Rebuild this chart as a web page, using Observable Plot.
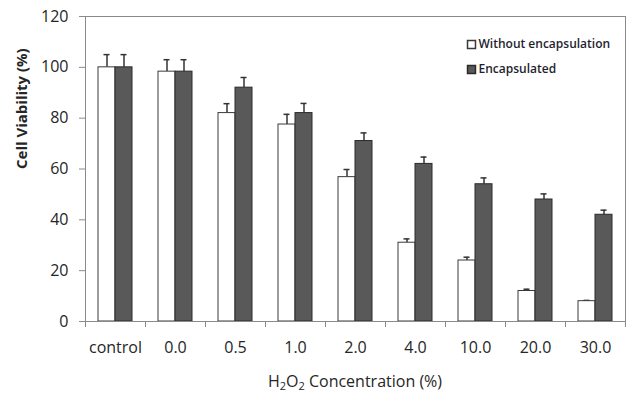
<!DOCTYPE html>
<html><head><meta charset="utf-8">
<script src="https://cdn.jsdelivr.net/npm/d3@7"></script>
<script src="https://cdn.jsdelivr.net/npm/@observablehq/plot@0.6"></script>
<style>
body{margin:0;background:#fff;font-family:"Open Sans",sans-serif;}
#chart svg{display:block;}
#xtitle{width:540px;padding-left:85px;height:28px;line-height:30px;text-align:center;font-size:16px;color:#262626;}
#xtitle sub{font-size:11px;vertical-align:-3px;line-height:0;}
</style></head>
<body>
<div id="chart"></div>
<div id="xtitle">H<sub>2</sub>O<sub>2</sub> Concentration (%)</div>
<script>
const categories = ["control","0.0","0.5","1.0","2.0","4.0","10.0","20.0","30.0"];
const seriesNames = ["Without encapsulation","Encapsulated"];
const withoutMean = [100,98.3,82,77.5,56.8,31,24,12,8];
const withoutErr  = [5,4.7,3.7,4,3,1.5,1.3,0.7,0.3];
const encapMean   = [100,98.3,92,82,71,62,54,48,42];
const encapErr    = [5,4.7,4,3.8,3.2,2.7,2.5,2.2,1.8];
const yTicks = [0,20,40,60,80,100,120];

const wData = categories.map((c,i)=>({cat:c, v:withoutMean[i], e:withoutErr[i]}));
const eData = categories.map((c,i)=>({cat:c, v:encapMean[i], e:encapErr[i]}));

const font = "Open Sans, sans-serif";
const plot = Plot.plot({
  width: 628, height: 366,
  marginLeft: 85, marginRight: 3, marginTop: 16, marginBottom: 45,
  style: {fontFamily: font, fontSize: "16px", color: "#262626", background: "#fff"},
  x: {domain: categories, padding: 0, axis: null},
  y: {domain: [0,120], axis: null},
  marks: [
    Plot.frame({stroke: "#8a8a8a"}),
    // error bars (upper)
    Plot.ruleX(wData, {x: "cat", y1: "v", y2: d=>d.v+d.e, dx: -8.5, stroke: "#333", strokeWidth: 1.5}),
    Plot.ruleX(eData, {x: "cat", y1: "v", y2: d=>d.v+d.e, dx: 8.5, stroke: "#333", strokeWidth: 1.5}),
    Plot.tickY(wData, {x: "cat", y: d=>d.v+d.e, insetLeft: 18.5, insetRight: 35.5, stroke: "#333", strokeWidth: 1.5}),
    Plot.tickY(eData, {x: "cat", y: d=>d.v+d.e, insetLeft: 35.5, insetRight: 18.5, stroke: "#333", strokeWidth: 1.5}),
    // bars
    Plot.barY(wData, {x: "cat", y: "v", insetLeft: 13, insetRight: 30, fill: "#fff", stroke: "#3a3a3a", strokeWidth: 1}),
    Plot.barY(eData, {x: "cat", y: "v", insetLeft: 30, insetRight: 13, fill: "#595959", stroke: "#2a2a2a", strokeWidth: 1}),
    // axes
    Plot.ruleY([0], {stroke: "#8a8a8a"}),
    Plot.axisY({ticks: yTicks, tickSize: 6, tickPadding: 11, stroke: "#8a8a8a", fill: "#262626", fontSize: 16, label: null}),
    Plot.axisX({tickSize: 6, dx: -30, tickFormat: () => "", stroke: "#8a8a8a", label: null}),
    Plot.axisX({ticks: [categories[categories.length-1]], tickSize: 6, dx: 30, tickFormat: () => "", stroke: "#8a8a8a", label: null}),
    Plot.axisX({tickSize: 0, tickPadding: 20, fill: "#262626", fontSize: 16, label: null}),
    // y title
    Plot.text(["Cell Viability (%)"], {frameAnchor: "left", dx: -63, rotate: -90, fontWeight: "bold", fontSize: 15, fill: "#262626"}),
    // legend
    Plot.dot([seriesNames[0]], {frameAnchor: "top-right", dx: -154, dy: 28, symbol: "square", r: 4.5, fill: "#fff", stroke: "#3a3a3a"}),
    Plot.dot([seriesNames[1]], {frameAnchor: "top-right", dx: -154, dy: 53, symbol: "square", r: 4.5, fill: "#595959", stroke: "#2a2a2a"}),
    Plot.text([seriesNames[0]], {text: d=>d, frameAnchor: "top-right", dx: -147, dy: 28, textAnchor: "start", lineAnchor: "middle", fontSize: 12, fontWeight: 600, fill: "#1e1e2e"}),
    Plot.text([seriesNames[1]], {text: d=>d, frameAnchor: "top-right", dx: -147, dy: 53, textAnchor: "start", lineAnchor: "middle", fontSize: 12, fontWeight: 600, fill: "#1e1e2e"})
  ]
});
document.getElementById("chart").appendChild(plot);
</script>
</body></html>
